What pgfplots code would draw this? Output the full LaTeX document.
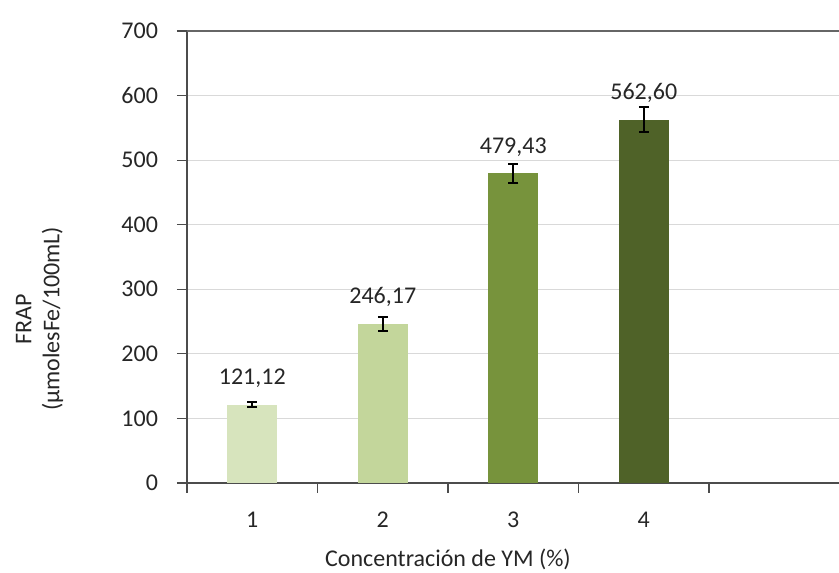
\documentclass[border=0pt]{standalone}
\usepackage{fontspec}
\setmainfont{Carlito}
\usepackage{pgfplots}
\pgfplotsset{compat=1.18}

\definecolor{g1}{HTML}{D7E4BD}
\definecolor{g2}{HTML}{C3D69B}
\definecolor{g3}{HTML}{77933C}
\definecolor{g4}{HTML}{4F6228}

\begin{document}
\begin{tikzpicture}[font=\fontsize{12}{14}\selectfont]
\begin{axis}[
    width=326.25pt, height=226pt, scale only axis,
    ybar, bar width=25pt,
    xmin=0.5, xmax=5.5, ymin=0, ymax=700,
    xtick={0.5,1.5,...,5.5},
    x tick label as interval,
    xticklabels={1,2,3,4,{}},
    ytick={0,100,...,700},
    xtick pos=left, ytick pos=left,
    tick align=outside, major tick length=5pt,
    tick style={black!70, line width=0.6pt},
    axis line style={black!70, line width=0.6pt},
    ymajorgrids, grid style={gray!30, line width=0.6pt},
    /pgf/number format/assume math mode=true,
    ticklabel style={black!85},
    yticklabel style={xshift=-6pt},
    xticklabel style={yshift=-6pt},
    xlabel={Concentración de YM (\%)},
    xlabel style={at={(axis description cs:0.4,-0.168)}, anchor=center, black!85},
    ylabel={FRAP\\(µmolesFe/100mL)},
    ylabel style={at={(axis description cs:-0.226,0.363)}, anchor=center, align=center, black!85},
    point meta=y,
    nodes near coords={\pgfmathprintnumber[fixed,fixed zerofill,precision=2,use comma]{\pgfplotspointmeta}},
    every node near coord/.append style={black!85, yshift=5pt},
    error bars/y dir=both, error bars/y explicit,
    error bars/error bar style={black, line width=1pt},
    error bars/error mark options={rotate=90, mark size=2.5pt, line width=1pt, black},
]
    \addplot[fill=g1, draw=none, bar shift=0pt] coordinates {(1,121.12) +- (0,4)};
    \addplot[fill=g2, draw=none, bar shift=0pt] coordinates {(2,246.17) +- (0,11.5)};
    \addplot[fill=g3, draw=none, bar shift=0pt] coordinates {(3,479.43) +- (0,15)};
    \addplot[fill=g4, draw=none, bar shift=0pt] coordinates {(4,562.60) +- (0,19)};
    \coordinate (bl) at (rel axis cs:0,0);
\end{axis}
\draw[black!60, line width=1pt] (bl) ++(0,226pt) -- ++(326pt,0);
\pgfresetboundingbox
\path[use as bounding box] (bl) ++(-93.5pt,-44.5pt) rectangle ++(419.5pt,286pt);
\end{tikzpicture}
\end{document}
